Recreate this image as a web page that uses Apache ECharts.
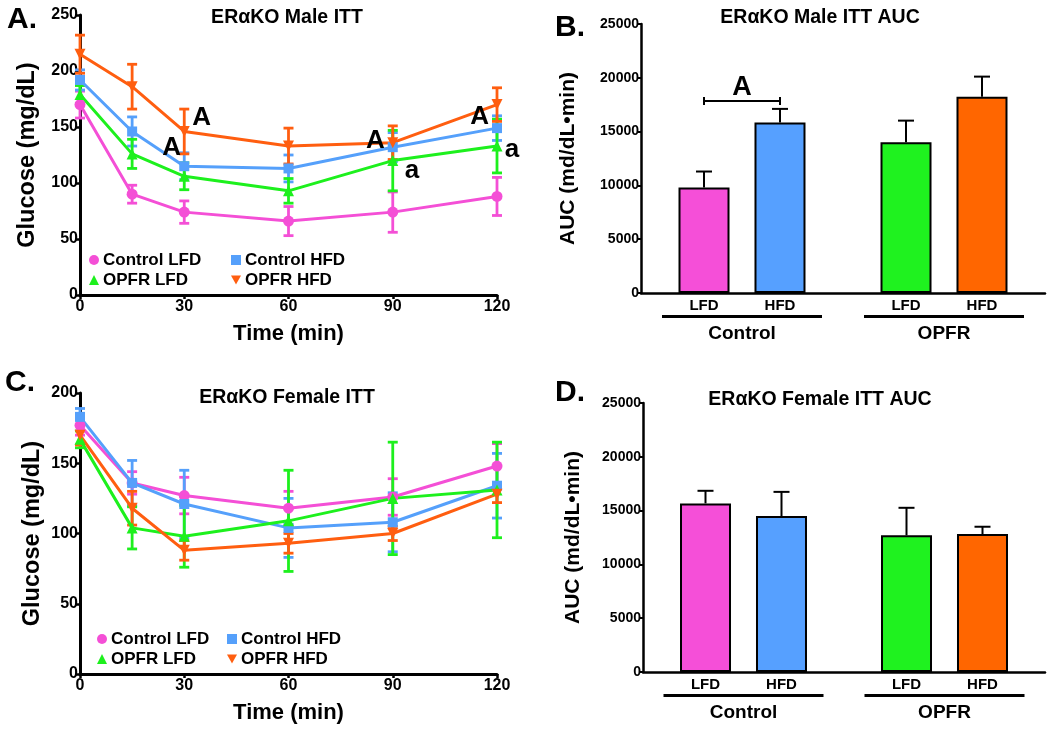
<!DOCTYPE html>
<html>
<head>
<meta charset="utf-8">
<script src="https://cdn.jsdelivr.net/npm/echarts@6/dist/echarts.min.js"></script>
<style>
  html, body { margin: 0; padding: 0; background: #fff; }
  #main { width: 1050px; height: 730px; }
</style>
</head>
<body>
<div id="main"></div>
<script>
  'use strict'

  // ---- data ----
  var times = [0, 15, 30, 60, 90, 120];
  var groups = ['Control LFD', 'Control HFD', 'OPFR LFD', 'OPFR HFD'];

  // male ITT (mg/dL) and SEM
  var maleCtlLfd  = [170, 90, 74, 66, 74, 88];
  var maleCtlHfd  = [192, 146, 115, 113, 132, 149];
  var maleOpfrLfd = [179, 126, 106, 93, 120, 133];
  var maleOpfrHfd = [215, 186, 146, 133, 136, 170];
  var maleCtlLfdErr  = [12, 8, 10, 13, 18, 17];
  var maleCtlHfdErr  = [9, 13, 12, 12, 13, 11];
  var maleOpfrLfdErr = [8, 13, 12, 11, 27, 24];
  var maleOpfrHfdErr = [17, 20, 20, 16, 15, 15];

  // female ITT (mg/dL) and SEM
  var femCtlLfd  = [177, 136, 127, 118, 126, 148];
  var femCtlHfd  = [183, 136, 121, 104, 108, 134];
  var femOpfrLfd = [167, 104, 98, 109, 125, 131];
  var femOpfrHfd = [170, 118, 88, 93, 100, 128];
  var femCtlLfdErr  = [7, 8, 13, 12, 13, 16];
  var femCtlHfdErr  = [6, 16, 24, 21, 21, 23];
  var femOpfrLfdErr = [6, 15, 22, 36, 40, 34];
  var femOpfrHfdErr = [7, 12, 7, 7, 5, 6];

  // AUC, categories Control / OPFR
  var aucCats = ['Control', 'OPFR'];
  var maleAucLfd = [9800, 14020];
  var maleAucHfd = [15840, 18250];
  var maleAucLfdErr = [1490, 2000];
  var maleAucHfdErr = [1270, 1860];
  var femAucLfd = [15670, 12700];
  var femAucHfd = [14490, 12820];
  var femAucLfdErr = [1170, 2560];
  var femAucHfdErr = [2250, 680];

  // significance letters on the male ITT panel (dx = label nudge in px)
  var maleMarks = [
    {text: 'A', t: 35, v: 158, dx: 0},
    {text: 'A', t: 26.4, v: 131, dx: 0},
    {text: 'A', t: 85, v: 138, dx: 0},
    {text: 'a', t: 95.5, v: 111, dx: 0},
    {text: 'A', t: 115, v: 159, dx: 0},
    {text: 'a', t: 120, v: 129.5, dx: 15}
  ];
  var maleBracket = {cat: 0, value: 17850, text: 'A'};

  // ---- styles ----
  var FONT = 'Liberation Sans';
  var colors = ['#f44fd6', '#55a0fb', '#1df01d', '#ff5e10'];
  var barColors = [['#f54fd8', '#1ff21f'], ['#56a0ff', '#ff6600']];
  var symbols = ['circle', 'rect', 'triangle', 'triangle'];
  var symbolRot = [0, 0, 0, 180];
  var legendIcons = ['circle', 'rect', 'triangle', 'path://M0,0L10,0L5,9Z'];

  function errRender(color) {
    return function (params, api) {
      var x = api.value(0), y = api.value(1), e = api.value(2);
      var hi = api.coord([x, y + e]);
      var lo = api.coord([x, y - e]);
      var w = 5;
      var st = {stroke: color, lineWidth: 2.8};
      return {
        type: 'group',
        children: [
          {type: 'line', shape: {x1: hi[0], y1: hi[1], x2: lo[0], y2: lo[1]}, style: st},
          {type: 'line', shape: {x1: hi[0] - w, y1: hi[1], x2: hi[0] + w, y2: hi[1]}, style: st},
          {type: 'line', shape: {x1: lo[0] - w, y1: lo[1], x2: lo[0] + w, y2: lo[1]}, style: st}
        ]
      };
    };
  }

  function barErrRender(side) {
    return function (params, api) {
      var c = api.value(0), y = api.value(1), e = api.value(2);
      var top = api.coord([c, y]);
      var hi = api.coord([c, y + e]);
      var x = top[0] + side * 38;
      var st = {stroke: '#000', lineWidth: 2};
      return {
        type: 'group',
        children: [
          {type: 'line', shape: {x1: x, y1: top[1], x2: x, y2: hi[1]}, style: st},
          {type: 'line', shape: {x1: x - 8, y1: hi[1], x2: x + 8, y2: hi[1]}, style: st}
        ]
      };
    };
  }

  function lineSet(vals, errs, gi, marks) {
    var out = [];
    for (var i = 0; i < 4; i++) {
      out.push({
        name: groups[i] + ' err ' + gi,
        type: 'custom',
        xAxisIndex: gi, yAxisIndex: gi,
        renderItem: errRender(colors[i]),
        data: times.map(function (t, k) { return [t, vals[i][k], errs[i][k]]; }),
        z: 2,
        silent: true
      });
    }
    for (var j = 0; j < 4; j++) {
      var s = {
        name: groups[j],
        type: 'line',
        xAxisIndex: gi, yAxisIndex: gi,
        data: times.map(function (t, k) { return [t, vals[j][k]]; }),
        symbol: symbols[j],
        symbolRotate: symbolRot[j],
        symbolSize: j === 1 ? 10 : 11,
        showAllSymbol: true,
        lineStyle: {width: 3, color: colors[j]},
        itemStyle: {color: colors[j]},
        z: 3
      };
      if (j === 3 && marks) {
        s.markPoint = {
          symbol: 'circle',
          symbolSize: 1,
          itemStyle: {color: 'rgba(0,0,0,0)'},
          label: {show: true, formatter: '{b}', color: '#000', fontFamily: FONT, fontWeight: 'bold', fontSize: 26},
          data: marks.map(function (m) {
            return {name: m.text, coord: [m.t, m.v], label: {offset: [m.dx, 0]}};
          })
        };
      }
      out.push(s);
    }
    return out;
  }

  function barSet(lfd, hfd, lfdErr, hfdErr, gi, bracket) {
    var lbl = function (txt) {
      return {show: true, position: 'bottom', distance: 5, formatter: txt,
        color: '#000', fontFamily: FONT, fontWeight: 'bold', fontSize: 15};
    };
    var out = [
      {
        name: 'LFD ' + gi, type: 'bar', xAxisIndex: gi, yAxisIndex: gi,
        barWidth: 51, barGap: '49%',
        data: lfd.map(function (v, k) { return {value: v, itemStyle: {color: barColors[0][k]}}; }),
        itemStyle: {borderColor: '#000', borderWidth: 2},
        label: lbl('LFD')
      },
      {
        name: 'HFD ' + gi, type: 'bar', xAxisIndex: gi, yAxisIndex: gi,
        barWidth: 51, barGap: '49%',
        data: hfd.map(function (v, k) { return {value: v, itemStyle: {color: barColors[1][k]}}; }),
        itemStyle: {borderColor: '#000', borderWidth: 2},
        label: lbl('HFD')
      },
      {
        name: 'LFD err ' + gi, type: 'custom', xAxisIndex: gi, yAxisIndex: gi,
        renderItem: barErrRender(-1), silent: true, z: 1,
        data: lfd.map(function (v, k) { return [k, v, lfdErr[k]]; })
      },
      {
        name: 'HFD err ' + gi, type: 'custom', xAxisIndex: gi, yAxisIndex: gi,
        renderItem: barErrRender(1), silent: true, z: 1,
        data: hfd.map(function (v, k) { return [k, v, hfdErr[k]]; })
      }
    ];
    if (bracket) {
      out.push({
        name: 'bracket ' + gi, type: 'custom', xAxisIndex: gi, yAxisIndex: gi, silent: true,
        data: [[bracket.cat, bracket.value]],
        renderItem: function (params, api) {
          var p = api.coord([api.value(0), api.value(1)]);
          var st = {stroke: '#000', lineWidth: 2};
          return {
            type: 'group',
            children: [
              {type: 'line', shape: {x1: p[0] - 38, y1: p[1], x2: p[0] + 38, y2: p[1]}, style: st},
              {type: 'line', shape: {x1: p[0] - 38, y1: p[1] - 4, x2: p[0] - 38, y2: p[1] + 4}, style: st},
              {type: 'line', shape: {x1: p[0] + 38, y1: p[1] - 4, x2: p[0] + 38, y2: p[1] + 4}, style: st},
              {type: 'text', x: p[0], y: p[1] - 13, style: {text: bracket.text, fill: '#000',
                font: 'bold 27px ' + FONT, align: 'center', verticalAlign: 'middle'}}
            ]
          };
        }
      });
    }
    return out;
  }

  var axisLine = {lineStyle: {color: '#000', width: 3}};
  var axisTick = {length: 4, lineStyle: {color: '#000', width: 2.5}};
  var tickFont = {color: '#000', fontFamily: FONT, fontWeight: 'bold', fontSize: 16, margin: 4};

  function timeAxis(gi) {
    return {
      gridIndex: gi, type: 'value', min: 0, max: 120, interval: 30,
      name: 'Time (min)', nameLocation: 'middle', nameGap: 28,
      nameTextStyle: {color: '#000', fontFamily: FONT, fontWeight: 'bold', fontSize: 22},
      axisLine: axisLine, axisTick: axisTick, splitLine: {show: false},
      axisLabel: tickFont
    };
  }
  function glucoseAxis(gi, max, gap) {
    return {
      gridIndex: gi, type: 'value', min: 0, max: max, interval: 50,
      name: 'Glucose (mg/dL)', nameLocation: 'middle', nameGap: gap,
      nameTextStyle: {color: '#000', fontFamily: FONT, fontWeight: 'bold', fontSize: 23.5},
      axisLine: {show: true, lineStyle: {color: '#000', width: 3}},
      axisTick: {show: true, length: 4, lineStyle: {color: '#000', width: 2.5}},
      splitLine: {show: false},
      axisLabel: {color: '#000', fontFamily: FONT, fontWeight: 'bold', fontSize: 16, margin: 2}
    };
  }
  function catAxis(gi) {
    return {
      gridIndex: gi, type: 'category', data: aucCats,
      axisLine: {lineStyle: {color: '#000', width: 2.5}},
      axisTick: {alignWithLabel: true, length: 3, lineStyle: {color: '#000', width: 2}},
      axisLabel: {
        margin: 22,
        formatter: function (v) { return '{bar| }\n{txt|' + v + '}'; },
        rich: {
          bar: {width: 160, height: 3, lineHeight: 3, backgroundColor: '#000', fontSize: 1},
          txt: {color: '#000', fontFamily: FONT, fontWeight: 'bold', fontSize: 19, lineHeight: 32}
        }
      }
    };
  }
  function aucAxis(gi, gap) {
    return {
      gridIndex: gi, type: 'value', min: 0, max: 25000, interval: 5000,
      name: 'AUC (md/dL\u2022min)', nameLocation: 'middle', nameGap: gap,
      nameTextStyle: {color: '#000', fontFamily: FONT, fontWeight: 'bold', fontSize: 21},
      axisLine: {show: true, lineStyle: {color: '#000', width: 2.5}},
      axisTick: {show: true, length: 3, lineStyle: {color: '#000', width: 2}},
      splitLine: {show: false},
      axisLabel: {color: '#000', fontFamily: FONT, fontWeight: 'bold', fontSize: 14, margin: 2,
        formatter: function (v) { return String(v); }}
    };
  }

  function legendPair(left, top, a, b) {
    return {
      left: left, top: top, orient: 'vertical', itemGap: 2,
      itemWidth: 10, itemHeight: 10, padding: 0, selectedMode: false,
      textStyle: {color: '#000', fontFamily: FONT, fontWeight: 'bold', fontSize: 17, lineHeight: 18, padding: [0, 0, 0, -1]},
      data: [{name: groups[a], icon: legendIcons[a]}, {name: groups[b], icon: legendIcons[b]}]
    };
  }

  function txt(x, y, s, size, align) {
    return {type: 'text', x: x, y: y, style: {text: s, fill: '#000', font: 'bold ' + size + 'px ' + FONT,
      align: align || 'center', verticalAlign: 'middle'}};
  }

  var series = []
    .concat(lineSet([maleCtlLfd, maleCtlHfd, maleOpfrLfd, maleOpfrHfd],
      [maleCtlLfdErr, maleCtlHfdErr, maleOpfrLfdErr, maleOpfrHfdErr], 0, maleMarks))
    .concat(barSet(maleAucLfd, maleAucHfd, maleAucLfdErr, maleAucHfdErr, 1, maleBracket))
    .concat(lineSet([femCtlLfd, femCtlHfd, femOpfrLfd, femOpfrHfd],
      [femCtlLfdErr, femCtlHfdErr, femOpfrLfdErr, femOpfrHfdErr], 2, null))
    .concat(barSet(femAucLfd, femAucHfd, femAucLfdErr, femAucHfdErr, 3, null));

  var option = {
    backgroundColor: '#fff',
    animation: false,
    grid: [
      {left: 80, top: 15, width: 417, height: 280},
      {left: 641, top: 24, width: 404, height: 269},
      {left: 80, top: 393, width: 417, height: 281},
      {left: 643, top: 403, width: 402, height: 269}
    ],
    xAxis: [timeAxis(0), catAxis(1), timeAxis(2), catAxis(3)],
    yAxis: [glucoseAxis(0, 250, 40), aucAxis(1, 62), glucoseAxis(2, 200, 35), aucAxis(3, 59)],
    legend: [
      legendPair(89, 251, 0, 2),
      legendPair(231, 251, 1, 3),
      legendPair(97, 630, 0, 2),
      legendPair(227, 630, 1, 3)
    ],
    graphic: [
      txt(7, 20, 'A.', 30, 'left'),
      txt(555, 28, 'B.', 30, 'left'),
      txt(5, 383, 'C.', 30, 'left'),
      txt(555, 393, 'D.', 30, 'left'),
      txt(287, 18, 'ER\u03b1KO Male ITT', 19.5),
      txt(820, 18, 'ER\u03b1KO Male ITT AUC', 19.5),
      txt(287, 398, 'ER\u03b1KO Female ITT', 19.5),
      txt(820, 400, 'ER\u03b1KO Female ITT AUC', 19.5)
    ],
    series: series
  };

  var chart = echarts.init(document.getElementById('main'));
  chart.setOption(option);
</script>
</body>
</html>
